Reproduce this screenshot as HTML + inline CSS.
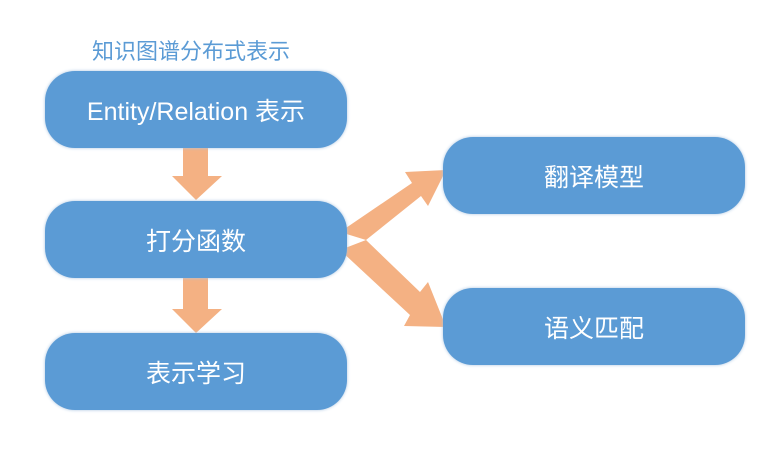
<!DOCTYPE html>
<html><head><meta charset="utf-8"><style>
body{margin:0;background:#fff;width:768px;height:451px;overflow:hidden;position:relative;font-family:"Liberation Sans","Noto Sans CJK SC",sans-serif}
.b{position:absolute;width:302px;height:77px;background:#5b9bd5;border-radius:30px;color:#fff;display:flex;align-items:center;justify-content:center;font-size:25px;box-shadow:0 0 3px #aac4e0}
.t{position:absolute;left:92px;top:34px;color:#5b9bd5;font-size:22px}
</style></head><body>
<svg style="position:absolute;left:0;top:0" width="768" height="451">
<g fill="#f4b183">
<polygon points="183,148 208,148 208,176 222,176 196,200 172,176 183,176"/>
<polygon points="183,278 208,278 208,309 222,309 196,333 172,309 183,309"/>
<polygon points="340,232 412,183 405,172 446,170 428,206 421,196 366,240"/>
<polygon points="340,250 366,240 420,292 428,282 446,327 404,326 410,315"/>
</g>
</svg>
<div class="t">知识图谱分布式表示</div>
<div class="b" style="left:45px;top:71px">Entity/Relation 表示</div>
<div class="b" style="left:45px;top:201px">打分函数</div>
<div class="b" style="left:45px;top:333px">表示学习</div>
<div class="b" style="left:443px;top:137px">翻译模型</div>
<div class="b" style="left:443px;top:288px">语义匹配</div>
</body></html>
